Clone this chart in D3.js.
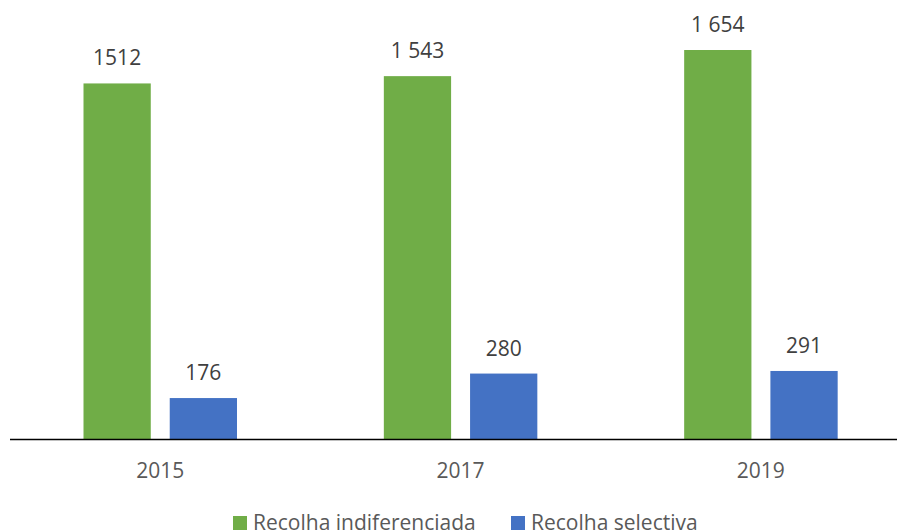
<!DOCTYPE html>
<html>
<head>
<meta charset="utf-8">
<script src="https://cdn.jsdelivr.net/npm/d3@7"></script>
<style>
  html, body { margin: 0; padding: 0; background: #fff; }
  svg { display: block; }
  text { font-family: "Open Sans", "Liberation Sans", sans-serif; }
</style>
</head>
<body>
<svg id="chart" width="897" height="531"></svg>
<script>
// Waste collection (tonnes) by year
const years = ["2015", "2017", "2019"];
const seriesNames = ["Recolha indiferenciada", "Recolha selectiva"];
const indiferenciada = [1512, 1543, 1654];
const selectiva = [176, 280, 291];
const indiferenciadaLabels = ["1512", "1 543", "1 654"];
const selectivaLabels = ["176", "280", "291"];
const colors = ["#70AD47", "#4472C4"];

const svg = d3.select("#chart");
const W = 897, H = 531;
const baseY = 439.5;

const rows = years.map((y, i) => ({
  year: y,
  bars: [
    { key: seriesNames[0], value: indiferenciada[i], label: indiferenciadaLabels[i] },
    { key: seriesNames[1], value: selectiva[i], label: selectivaLabels[i] }
  ]
}));

const x0 = d3.scaleBand().domain(years).range([10, 911]).padding(0);
const x1 = d3.scaleBand().domain(seriesNames).range([73.5, 227]).paddingInner(0.22).paddingOuter(0);
const y = d3.scaleLinear().domain([0, 1800]).range([baseY, baseY - 1800 * 0.23549]);
const color = d3.scaleOrdinal().domain(seriesNames).range(colors);

const groups = svg.selectAll("g.year").data(rows).join("g")
  .attr("class", "year")
  .attr("transform", d => `translate(${x0(d.year)},0)`);

groups.selectAll("rect").data(d => d.bars).join("rect")
  .attr("x", d => x1(d.key))
  .attr("width", x1.bandwidth())
  .attr("y", d => y(d.value))
  .attr("height", d => y(0) - y(d.value))
  .attr("fill", d => color(d.key));

groups.selectAll("text.val").data(d => d.bars).join("text")
  .attr("class", "val")
  .attr("x", d => x1(d.key) + x1.bandwidth() / 2)
  .attr("y", d => y(d.value) - 18)
  .attr("text-anchor", "middle")
  .attr("font-size", 21)
  .attr("fill", "#404040")
  .text(d => d.label);

// Category axis
const xAxis = d3.axisBottom(x0).tickSize(0).tickPadding(0);
const ax = svg.append("g").attr("transform", `translate(0,${baseY})`).call(xAxis);
ax.select(".domain").remove();
ax.selectAll(".tick text")
  .attr("y", 38.5)
  .attr("dy", 0)
  .attr("font-size", 21)
  .attr("font-family", "'Open Sans', 'Liberation Sans', sans-serif")
  .attr("fill", "#595959");

svg.append("line")
  .attr("x1", 10).attr("x2", W)
  .attr("y1", baseY).attr("y2", baseY)
  .attr("stroke", "#000").attr("stroke-width", 1.5);

// Legend
const legendX = [233, 511];
const lg = svg.selectAll("g.legend").data(seriesNames).join("g")
  .attr("class", "legend")
  .attr("transform", (d, i) => `translate(${legendX[i]},516)`);
lg.append("rect").attr("width", 14).attr("height", 14).attr("fill", d => color(d));
lg.append("text")
  .attr("x", 20).attr("y", 13.5)
  .attr("font-size", 21)
  .attr("fill", "#595959")
  .text(d => d);
</script>
</body>
</html>
